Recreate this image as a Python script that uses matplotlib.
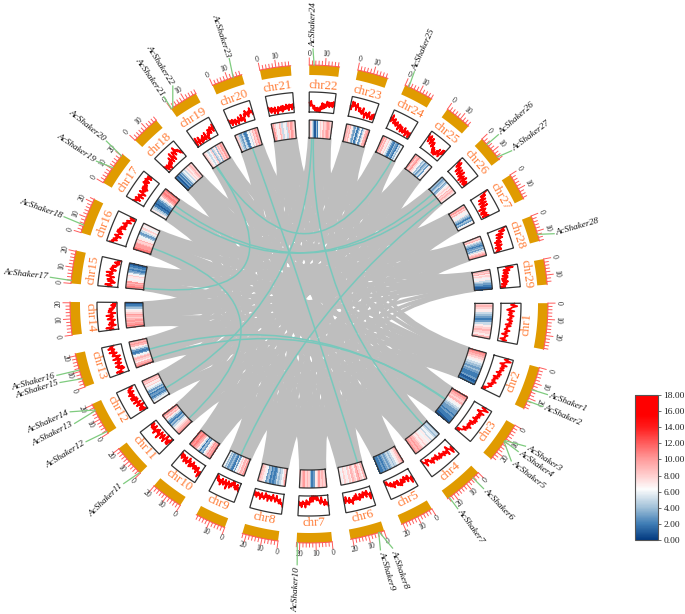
import numpy as np
import matplotlib
matplotlib.use("Agg")
import matplotlib.pyplot as plt
from matplotlib.colors import LinearSegmentedColormap, Normalize
from matplotlib.colorbar import ColorbarBase
from matplotlib.patches import PathPatch
from matplotlib.path import Path

plt.rcParams["font.family"] = ["Liberation Serif", "DejaVu Serif"]

chr_names = ["chr%d" % i for i in range(1, 30)]
chr_sizes = [28.7, 27.2, 25.6, 24.9, 21.0, 21.3, 22.0, 22.5, 19.2, 20.2, 20.2, 20.5, 21.5, 20.5, 20.5,
             22.3, 21.3, 18.0, 18.0, 19.2, 19.2, 18.7, 19.2, 18.5, 16.7, 16.7, 17.0, 16.2, 15.9]

# one row per chromosome, clockwise from position 0
heat_values = [
    [8, 9, 8, 7, 5, 4, 3, 2, 3, 5, 7, 8, 9, 8, 7, 9],
    [11, 10, 9, 8, 7, 6, 5, 4, 3, 4, 3, 2, 2, 3, 1, 2],
    [11, 10, 9, 8, 9, 7, 6, 5, 4, 3, 3, 2, 3, 2, 2, 1],
    [4, 5, 4, 5, 6, 5, 7, 6, 7, 8, 7, 8, 9, 10, 9, 10],
    [10, 9, 8, 7, 6, 5, 4, 5, 4, 3, 4, 3, 2, 3, 2, 2],
    [8, 9, 7, 8, 10, 9, 7, 8, 9, 7, 8, 6, 7, 8, 6, 7],
    [9, 8, 9, 8, 10, 8, 7, 3, 2, 4, 8, 9, 8, 10, 9, 8],
    [10, 8, 6, 5, 4, 5, 3, 2, 3, 2, 4, 3, 6, 7, 8, 9],
    [9, 10, 8, 9, 7, 8, 6, 3, 5, 2, 3, 4, 3, 5, 4, 6],
    [11, 10, 9, 10, 8, 6, 3, 4, 2, 5, 7, 9, 10, 11, 10, 11],
    [9, 10, 9, 8, 7, 6, 5, 3, 4, 2, 3, 5, 7, 9, 8, 10],
    [7, 6, 5, 3, 2, 3, 2, 4, 3, 5, 6, 8, 7, 9, 8, 9],
    [11, 10, 9, 7, 8, 9, 8, 6, 3, 2, 3, 5, 7, 9, 10, 9],
    [10, 11, 10, 9, 10, 9, 8, 9, 10, 8, 7, 6, 4, 3, 2, 1],
    [10, 11, 10, 9, 10, 7, 6, 7, 8, 6, 4, 3, 2, 3, 2, 1],
    [12, 11, 10, 10, 9, 8, 9, 7, 6, 4, 3, 5, 7, 8, 6, 7],
    [6, 7, 5, 4, 2, 1, 2, 2, 3, 5, 7, 9, 10, 11, 10, 11],
    [1, 2, 1, 3, 2, 4, 3, 5, 6, 5, 7, 8, 7, 8, 9, 8],
    [9, 8, 7, 6, 5, 6, 8, 4, 5, 7, 4, 8, 9, 8, 10, 9],
    [9, 8, 5, 4, 3, 5, 3, 2, 3, 6, 5, 7, 9, 8, 10, 9],
    [9, 10, 8, 6, 7, 9, 8, 5, 7, 6, 5, 9, 8, 10, 9, 8],
    [8, 7, 5, 3, 1, 4, 2, 6, 8, 7, 9, 8, 9, 10, 9, 8],
    [10, 9, 8, 9, 7, 4, 3, 5, 2, 4, 6, 3, 5, 7, 9, 10],
    [9, 10, 8, 9, 7, 8, 6, 5, 3, 2, 4, 3, 2, 5, 4, 6],
    [9, 10, 8, 9, 10, 8, 7, 6, 4, 5, 3, 4, 5, 3, 6, 7],
    [5, 4, 3, 4, 5, 3, 4, 6, 7, 8, 7, 9, 8, 9, 8, 7],
    [8, 9, 10, 8, 9, 7, 6, 7, 5, 4, 3, 2, 4, 3, 6, 7],
    [9, 8, 9, 7, 5, 4, 3, 2, 3, 4, 3, 5, 7, 8, 9, 10],
    [8, 9, 8, 9, 7, 8, 7, 6, 7, 5, 4, 3, 3, 2, 1, 1],
]

# height inside the line track, 0 inner edge to 100 outer edge
line_values = [
    [55, 65, 45, 60, 50, 62, 48, 55, 40, 50, 30, 38, 22, 35, 20, 30],
    [62, 75, 55, 70, 60, 65, 50, 58, 42, 50, 35, 40, 25, 30, 12, 5],
    [55, 70, 50, 68, 58, 62, 50, 60, 45, 52, 38, 45, 30, 35, 15, 8],
    [50, 60, 40, 62, 48, 55, 42, 50, 35, 45, 30, 38, 25, 15, 30, 10],
    [45, 55, 40, 50, 35, 48, 42, 55, 38, 45, 30, 40, 28, 30, 18, 12],
    [35, 45, 30, 40, 28, 42, 35, 48, 30, 42, 38, 50, 35, 45, 30, 40],
    [40, 30, 45, 25, 35, 20, 15, 10, 12, 25, 35, 28, 40, 30, 42, 35],
    [50, 35, 45, 30, 38, 25, 35, 28, 30, 25, 32, 20, 28, 18, 25, 20],
    [30, 20, 35, 25, 15, 30, 35, 22, 38, 28, 32, 20, 30, 25, 18, 12],
    [45, 55, 40, 50, 38, 45, 30, 42, 35, 28, 38, 25, 30, 20, 25, 18],
    [8, 25, 35, 15, 40, 28, 35, 22, 40, 30, 25, 38, 20, 30, 25, 20],
    [10, 22, 30, 18, 35, 25, 40, 28, 32, 45, 30, 38, 25, 35, 28, 20],
    [35, 45, 30, 40, 50, 38, 45, 30, 42, 35, 48, 38, 50, 42, 55, 45],
    [30, 45, 25, 40, 35, 28, 42, 30, 38, 25, 35, 28, 20, 12, 15, 8],
    [35, 48, 30, 45, 50, 38, 55, 42, 48, 35, 40, 30, 22, 10, 18, 8],
    [72, 60, 68, 55, 65, 50, 58, 60, 42, 50, 35, 40, 22, 30, 10, 18],
    [50, 38, 55, 40, 48, 35, 50, 42, 38, 52, 45, 55, 48, 60, 50, 55],
    [25, 15, 30, 20, 28, 35, 45, 30, 50, 38, 55, 45, 60, 48, 40, 30],
    [12, 30, 18, 35, 15, 25, 30, 18, 28, 15, 25, 35, 30, 45, 35, 50],
    [30, 20, 35, 25, 28, 20, 32, 25, 30, 22, 35, 45, 30, 40, 50, 35],
    [30, 22, 35, 25, 32, 20, 30, 28, 22, 35, 25, 30, 20, 32, 25, 30],
    [35, 40, 30, 25, 15, 20, 12, 25, 30, 38, 32, 42, 35, 40, 38, 45],
    [40, 60, 70, 55, 65, 50, 45, 35, 40, 25, 30, 20, 28, 15, 22, 30],
    [45, 60, 50, 55, 40, 50, 30, 42, 25, 35, 18, 30, 12, 25, 15, 20],
    [70, 55, 78, 60, 70, 50, 55, 35, 25, 30, 15, 25, 35, 20, 45, 50],
    [70, 55, 75, 45, 55, 38, 50, 30, 40, 25, 35, 18, 30, 15, 22, 20],
    [80, 60, 72, 50, 62, 40, 55, 35, 45, 25, 35, 20, 15, 28, 18, 30],
    [82, 65, 80, 55, 65, 48, 55, 40, 30, 45, 25, 35, 18, 28, 25, 15],
    [45, 60, 40, 50, 35, 45, 30, 38, 25, 30, 20, 28, 15, 22, 10, 12],
]
# spread of the track around each value, cycled along a chromosome
line_noise = [12, 5, 16, 9, 4, 14, 7, 18, 6, 11, 3, 15, 8, 13, 5, 10, 17]

# grey synteny: chr2..chr29 each send their second half (6 blocks, in order) to these chromosomes
block_chr = [2, 3, 4, 5, 6, 7, 8, 9, 10, 11, 12, 13, 14, 15, 16, 17, 18, 19, 20, 21, 22, 23, 24, 25, 26, 27, 28, 29]
block_partners = [
    [16, 15, 14, 12, 10, 8], [17, 16, 15, 13, 11, 9], [18, 17, 16, 14, 12, 10], [19, 18, 17, 15, 13, 11],
    [20, 19, 18, 16, 14, 12], [21, 20, 19, 17, 15, 13], [22, 21, 20, 18, 16, 14], [23, 22, 21, 19, 17, 15],
    [24, 23, 22, 20, 18, 16], [25, 24, 23, 21, 19, 17], [26, 25, 24, 22, 20, 18], [27, 26, 25, 23, 21, 19],
    [28, 27, 26, 24, 22, 20], [29, 28, 27, 25, 23, 21], [2, 29, 28, 26, 24, 22], [3, 2, 29, 27, 25, 23],
    [4, 3, 2, 28, 26, 24], [5, 4, 3, 29, 27, 25], [6, 5, 4, 2, 28, 26], [7, 6, 5, 3, 29, 27],
    [8, 7, 6, 4, 2, 28], [9, 8, 7, 5, 3, 29], [10, 9, 8, 6, 4, 2], [11, 10, 9, 7, 5, 3],
    [12, 11, 10, 8, 6, 4], [13, 12, 11, 9, 7, 5], [14, 13, 12, 10, 8, 6], [15, 14, 13, 11, 9, 7],
]

# teal links between shaker genes: chr, percent, chr, percent
teal_a_chr = [3, 3, 22, 6, 9, 26, 24, 22, 19, 16, 17]
teal_a_pct = [46, 44, 20, 16, 48, 30, 86, 12, 22, 26, 70]
teal_b_chr = [13, 13, 4, 20, 26, 17, 19, 12, 15, 11, 26]
teal_b_pct = [54, 14, 18, 52, 94, 48, 17, 30, 6, 19, 60]

gene_chr = [2, 2, 3, 3, 3, 4, 4, 6, 6, 7, 11, 12, 12, 12, 13, 13, 15, 16, 17, 17, 19, 19, 20, 22, 24, 26, 26, 28]
gene_pos = [14.4, 21.8, 11.3, 11.8, 12.3, 4.6, 23.5, 3.0, 3.5, 21.5, 0.5, 1.3, 16.0, 16.5, 5.4, 11.0, 1.8, 5.0,
            11.0, 20.0, 0.3, 1.3, 13.6, 3.0, 2.5, 4.6, 14.6, 12.0]
gene_angle = [20.8, 23.7, 33.3, 35.2, 37.8, 46.6, 54.0, 71.1, 73.8, 92.6, 135.9, 148.3, 153.0, 155.7, 162.5, 164.2,
              185.9, 199.6, 213.9, 218.8, 235.0, 238.0, 252.0, 270.9, 294.4, 318.2, 322.9, 344.0]
gene_radius = [257, 257, 261, 258, 258, 256, 255, 260, 258, 263, 260, 264, 265, 264, 263, 264,
               262, 262, 258, 262, 255, 259, 260, 257, 257, 256, 256, 257]

cbar_ticks = [0, 2, 4, 6, 8, 10, 12, 14, 16, 18]

START_ANGLE = -0.2
GAP = 4.46
UNIT = (360 - GAP * len(chr_sizes)) / sum(chr_sizes)
N_BLOCKS = 12

R_LINK, R_HEAT = 166, 184
R_LINE0, R_LINE1 = 192, 212
R_LABEL = 219
R_BAND0, R_BAND1 = 229, 239

GREY = "#BEBEBE"
TEAL = "#78C8BC"
GREEN = "#7FCB7F"
ORANGE = "#E09B00"
TICK_RED = "#FF5A5A"
LABEL_ORANGE = "#FF7A33"
EDGE = "#333333"

cmap = LinearSegmentedColormap.from_list("heat", [
    (0.0, "#033A80"), (2 / 18, "#3F7DB5"), (4 / 18, "#A0C0D8"), (6.3 / 18, "#FCFCFC"), (8 / 18, "#FFCFCF"),
    (10 / 18, "#FF9C9C"), (12 / 18, "#FF5E5E"), (14 / 18, "#FF1C1C"), (15.5 / 18, "#FF0000"), (1.0, "#FF0000")])
norm = Normalize(0, 18)

# start angle of every chromosome, clockwise from east
chr_start = []
angle = START_ANGLE
for size in chr_sizes:
    chr_start.append(angle)
    angle += size * UNIT + GAP


def to_angle(idx, pos):
    return chr_start[idx] + pos * UNIT


def xy(r, deg):
    a = np.radians(deg)
    return r * np.cos(a), -r * np.sin(a)


def flip_rotation(deg):
    # keep tangential text readable: math angle is the negative of ours
    math_angle = (-deg) % 360
    return math_angle - 90 if math_angle < 180 else math_angle + 90


def tick_rotation(deg):
    # tick numbers flip over later than the chromosome names do
    math_angle = (-deg) % 360
    return math_angle - 90 if (math_angle < 190 or math_angle > 330) else math_angle + 90


def block_angles(chrom, slot):
    idx = chrom - 1
    step = chr_sizes[idx] / N_BLOCKS
    return to_angle(idx, slot * step), to_angle(idx, (slot + 1) * step)


def draw_ribbon(ax, a0, a1, b0, b1, bend=0.05):
    p_a0, p_a1 = np.array(xy(R_LINK, a0)), np.array(xy(R_LINK, a1))
    p_b0, p_b1 = np.array(xy(R_LINK, b0)), np.array(xy(R_LINK, b1))
    c1 = bend * (p_a1 + p_b0)
    c2 = bend * (p_b1 + p_a0)
    verts = [p_a0, p_a1, c1, p_b0, p_b1, c2, p_a0]
    codes = [Path.MOVETO, Path.LINETO, Path.CURVE3, Path.CURVE3, Path.LINETO, Path.CURVE3, Path.CURVE3]
    ax.add_patch(PathPatch(Path(verts, codes), facecolor=GREY, edgecolor=GREY, lw=1.9, zorder=1))


def sector_box(ax, idx, r0, r1):
    th = np.linspace(to_angle(idx, 0), to_angle(idx, chr_sizes[idx]), 30)
    x0, y0 = xy(r0, th)
    x1, y1 = xy(r1, th[::-1])
    ax.plot(np.r_[x0, x1, x0[0]], np.r_[y0, y1, y0[0]], color=EDGE, lw=0.9, zorder=5, solid_joinstyle="miter")


fig = plt.figure(figsize=(6.85, 6.14), dpi=100)
ax = fig.add_axes([0, 0, 1, 1])
ax.set_xlim(-309, 376)
ax.set_ylim(-310, 304)
ax.axis("off")

# grey synteny ribbons
for chrom, partners in zip(block_chr, block_partners):
    for k, other in enumerate(partners):
        slot = 6 + k
        a0, a1 = block_angles(chrom, slot)
        b0, b1 = block_angles(other, 5 - k)
        draw_ribbon(ax, a0, a1, b0, b1)

# teal gene pairs
for ca, pa, cb, pb in zip(teal_a_chr, teal_a_pct, teal_b_chr, teal_b_pct):
    p0 = xy(R_LINK, to_angle(ca - 1, chr_sizes[ca - 1] * pa / 100))
    p2 = xy(R_LINK, to_angle(cb - 1, chr_sizes[cb - 1] * pb / 100))
    path = Path([p0, (0, 0), p2], [Path.MOVETO, Path.CURVE3, Path.CURVE3])
    ax.add_patch(PathPatch(path, facecolor="none", edgecolor=TEAL, lw=1.1, zorder=2))

for i, name in enumerate(chr_names):
    size = chr_sizes[i]
    a0, a1 = to_angle(i, 0), to_angle(i, size)
    mid = (a0 + a1) / 2

    # heat track
    vals = np.array(heat_values[i], dtype=float)
    th = np.linspace(a0, a1, len(vals) + 1)
    X = np.array([R_LINK * np.cos(np.radians(th)), R_HEAT * np.cos(np.radians(th))])
    Y = np.array([-R_LINK * np.sin(np.radians(th)), -R_HEAT * np.sin(np.radians(th))])
    ax.pcolormesh(X, Y, vals[None, :], cmap=cmap, norm=norm, shading="flat", zorder=3, linewidth=0)
    sector_box(ax, i, R_LINK, R_HEAT)

    # line track, drawn as a noisy band around the values
    line = np.array(line_values[i], dtype=float)
    th2 = np.linspace(a0 + 0.1, a1 - 0.1, len(line) * 2)
    spread = np.resize(line_noise, len(line) * 2)
    band = np.repeat(line, 2)
    band[::2] += spread[::2]
    band[1::2] -= spread[1::2]
    band = np.clip(band, 0, 100)
    lx, ly = xy(R_LINE0 + (R_LINE1 - R_LINE0) * band / 100, th2)
    ax.plot(lx, ly, color="#FF0000", lw=1.3, zorder=4)
    sector_box(ax, i, R_LINE0, R_LINE1)

    ax.text(*xy(R_LABEL, mid), name, color=LABEL_ORANGE, fontsize=9.3, ha="center", va="center",
            rotation=flip_rotation(mid), rotation_mode="anchor")

    # ideogram band
    th = np.linspace(a0, a1, 30)
    x0, y0 = xy(R_BAND0, th)
    x1, y1 = xy(R_BAND1, th[::-1])
    ax.fill(np.r_[x0, x1], np.r_[y0, y1], color=ORANGE, lw=0, zorder=3)
    bx, by = xy(R_BAND1, th)
    ax.plot(bx, by, color=TICK_RED, lw=0.7, zorder=3)

    # ticks every 2, labels every 10
    for t in np.arange(0, size + 0.01, 2):
        major = t % 10 == 0
        deg = to_angle(i, t)
        (x_a, y_a), (x_b, y_b) = xy(R_BAND1, deg), xy(R_BAND1 + (7 if major else 4), deg)
        ax.plot([x_a, x_b], [y_a, y_b], color=TICK_RED, lw=0.7, zorder=3)
        if major:
            ax.text(*xy(250, deg), "%d" % t, fontsize=5.5, color="#222222", ha="center", va="center",
                    rotation=tick_rotation(deg), rotation_mode="anchor")

# shaker gene labels
for n, (c, pos, deg, rad) in enumerate(zip(gene_chr, gene_pos, gene_angle, gene_radius), start=1):
    root = to_angle(c - 1, pos)
    (x_a, y_a), (x_b, y_b) = xy(R_BAND1, root), xy(rad - 2, deg)
    ax.plot([x_a, x_b], [y_a, y_b], color=GREEN, lw=0.9, zorder=6)
    left = 90 < deg < 270
    ax.text(*xy(rad, deg), "AcShaker%d" % n, fontsize=6.7, style="italic", color="#111111",
            ha="right" if left else "left", va="center", rotation_mode="anchor",
            rotation=180 - deg if left else -deg, zorder=7)

# colour scale
cax = fig.add_axes([635 / 685, 1 - 540 / 614, 23 / 685, 145 / 614])
cb = ColorbarBase(cax, cmap=cmap, norm=norm, ticks=cbar_ticks, format="%.2f")
cb.outline.set_edgecolor("#555555")
cb.outline.set_linewidth(0.8)
cax.tick_params(labelsize=6.8, length=2, width=0.6, pad=2, color="#555555", labelcolor="#222222")

fig.savefig("out.png", dpi=100)
